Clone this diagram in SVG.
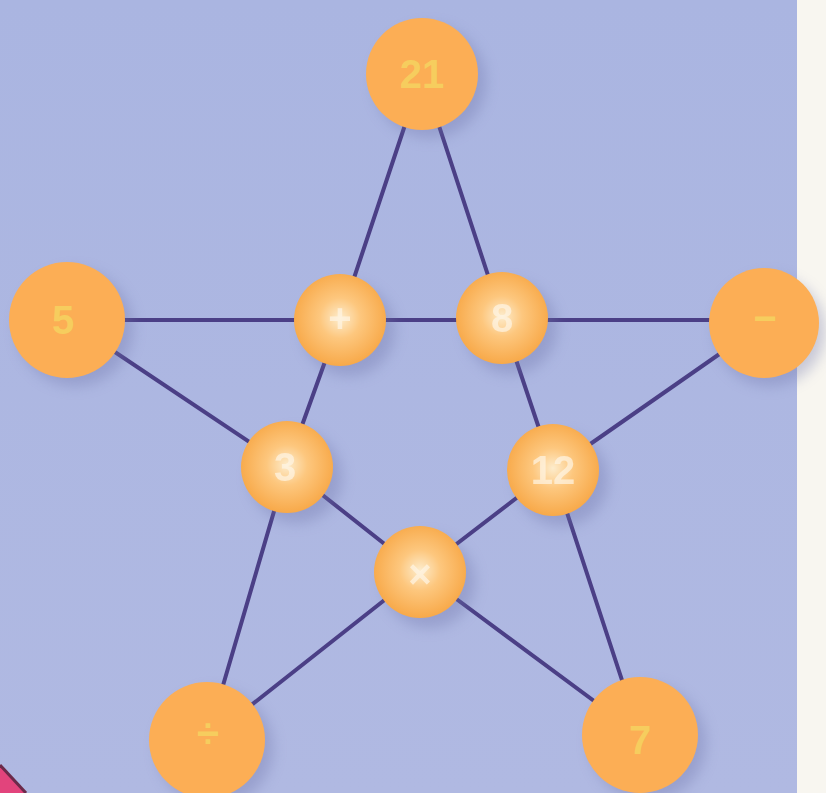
<svg xmlns="http://www.w3.org/2000/svg" width="826" height="793" viewBox="0 0 826 793">
<defs>
<style>
.edge{stroke:#4b3f86;stroke-width:4;stroke-linecap:round;fill:none}
.outer{fill:#fcae55}
.otxt{fill:#f6cd5e;font-family:"Liberation Sans",Arial,sans-serif;font-weight:bold;font-size:40px;text-anchor:middle;dominant-baseline:central}
.inner{fill:url(#sphere)}
.itxt{fill:#fff6e6;font-family:"Liberation Sans",Arial,sans-serif;font-weight:bold;font-size:40px;text-anchor:middle;dominant-baseline:central;opacity:0.7}
.shadow{fill:#6d72a8;opacity:0.35;filter:url(#blur)}
</style>
<radialGradient id="sphere" cx="0.5" cy="0.48" r="0.55">
<stop offset="0" stop-color="#fdeccc"/>
<stop offset="0.4" stop-color="#fdc77e"/>
<stop offset="1" stop-color="#f7a644"/>
</radialGradient>
<linearGradient id="bg" x1="0" y1="0" x2="0" y2="1">
<stop offset="0" stop-color="#aab5e1"/>
<stop offset="1" stop-color="#b0b9e2"/>
</linearGradient>
<filter id="blur" x="-50%" y="-50%" width="200%" height="200%"><feGaussianBlur stdDeviation="7"/></filter>
</defs>
<rect width="826" height="793" fill="url(#bg)"/>
<rect x="797" y="0" width="29" height="793" fill="#f8f6f0"/>
<polygon points="0,765 26,793 0,793" fill="#e2447c"/>
<line x1="0" y1="765" x2="26" y2="793" stroke="#6b2a4a" stroke-width="3"/>
<g id="connectors">
<line class="edge" x1="422" y1="74" x2="340" y2="320"/>
<line class="edge" x1="340" y1="320" x2="287" y2="467"/>
<line class="edge" x1="287" y1="467" x2="207" y2="740"/>
<line class="edge" x1="422" y1="74" x2="502" y2="318"/>
<line class="edge" x1="502" y1="318" x2="553" y2="470"/>
<line class="edge" x1="553" y1="470" x2="640" y2="735"/>
<line class="edge" x1="67" y1="320" x2="764" y2="320"/>
<line class="edge" x1="67" y1="320" x2="287" y2="467"/>
<line class="edge" x1="287" y1="467" x2="420" y2="572"/>
<line class="edge" x1="420" y1="572" x2="640" y2="735"/>
<line class="edge" x1="764" y1="323" x2="553" y2="470"/>
<line class="edge" x1="553" y1="470" x2="420" y2="572"/>
<line class="edge" x1="420" y1="572" x2="207" y2="740"/>
</g>
<g id="node-21"><circle class="shadow" cx="430" cy="82" r="56"/><circle class="outer" cx="422" cy="74" r="56"/><text class="otxt" x="422" y="74">21</text></g>
<g id="node-5"><circle class="shadow" cx="75" cy="328" r="58"/><circle class="outer" cx="67" cy="320" r="58"/><text class="otxt" x="63" y="320">5</text></g>
<g id="node-minus"><circle class="shadow" cx="770" cy="331" r="55"/><circle class="outer" cx="764" cy="323" r="55"/><text class="otxt" x="765" y="318">−</text></g>
<g id="node-divide"><circle class="shadow" cx="215" cy="748" r="58"/><circle class="outer" cx="207" cy="740" r="58"/><text class="otxt" x="208" y="733">÷</text></g>
<g id="node-7"><circle class="shadow" cx="648" cy="743" r="58"/><circle class="outer" cx="640" cy="735" r="58"/><text class="otxt" x="640" y="740">7</text></g>
<g id="node-plus"><circle class="shadow" cx="349" cy="330" r="46"/><circle class="inner" cx="340" cy="320" r="46"/><text class="itxt" x="340" y="318">+</text></g>
<g id="node-8"><circle class="shadow" cx="511" cy="328" r="46"/><circle class="inner" cx="502" cy="318" r="46"/><text class="itxt" x="502" y="318">8</text></g>
<g id="node-3"><circle class="shadow" cx="296" cy="477" r="46"/><circle class="inner" cx="287" cy="467" r="46"/><text class="itxt" x="285" y="467">3</text></g>
<g id="node-12"><circle class="shadow" cx="562" cy="480" r="46"/><circle class="inner" cx="553" cy="470" r="46"/><text class="itxt" x="553" y="470">12</text></g>
<g id="node-times"><circle class="shadow" cx="429" cy="582" r="46"/><circle class="inner" cx="420" cy="572" r="46"/><text class="itxt" x="420" y="574">×</text></g>
</svg>
